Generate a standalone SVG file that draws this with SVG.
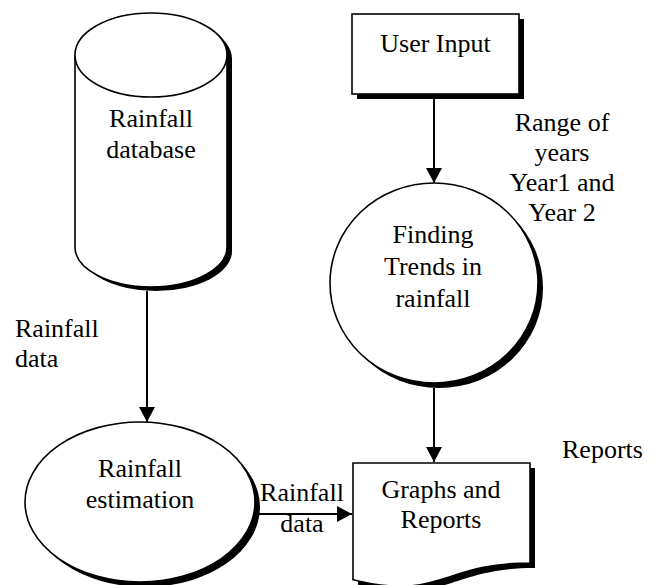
<svg xmlns="http://www.w3.org/2000/svg" width="658" height="585" viewBox="0 0 658 585">
  <style>
    .shape { fill: #fff; stroke: #000; stroke-width: 1.6; }
    .shadow { fill: #000; stroke: none; }
    .label { font-family: 'Liberation Serif', 'Times New Roman', Times, serif; font-size: 26px; fill: #000; }
    .mid { text-anchor: middle; }
    .flow { stroke: #000; stroke-width: 2; fill: none; marker-end: url(#arrow); }
  </style>
  <defs>
    <marker id="arrow" markerUnits="userSpaceOnUse" markerWidth="16" markerHeight="16" refX="15" refY="8" orient="auto">
      <path d="M0,0 L15,8 L0,16 Z" fill="#000"/>
    </marker>
  </defs>

  <rect width="658" height="585" fill="#fff"/>

  <!-- data store -->
  <g id="rainfall-database">
    <path class="shadow" transform="translate(5,4)" d="M75,55 V247 A76,40 0 0 0 227,247 V55 A76,42 0 0 0 75,55 Z"/>
    <path class="shape" d="M75,55 V247 A76,40 0 0 0 227,247 V55"/>
    <ellipse class="shape" cx="151" cy="55" rx="76" ry="42"/>
    <text class="label mid" x="151" y="127">Rainfall</text>
    <text class="label mid" x="151" y="158">database</text>
  </g>

  <!-- external entity -->
  <g id="user-input">
    <rect class="shadow" x="357" y="19" width="167" height="80"/>
    <rect class="shape" x="352" y="14" width="167" height="80"/>
    <text class="label mid" x="435.5" y="52">User Input</text>
  </g>

  <!-- processes -->
  <g id="finding-trends">
    <ellipse class="shadow" cx="439" cy="288" rx="104" ry="100"/>
    <ellipse class="shape" cx="434" cy="283" rx="104" ry="100"/>
    <text class="label mid" x="433" y="243">Finding</text>
    <text class="label mid" x="433" y="275">Trends in</text>
    <text class="label mid" x="433" y="307">rainfall</text>
  </g>

  <g id="rainfall-estimation">
    <ellipse class="shadow" cx="145" cy="507" rx="115" ry="80"/>
    <ellipse class="shape" cx="140" cy="502" rx="115" ry="80"/>
    <text class="label mid" x="140" y="477">Rainfall</text>
    <text class="label mid" x="140" y="508">estimation</text>
  </g>

  <!-- document output -->
  <g id="graphs-and-reports">
    <path class="shadow" transform="translate(5,5)" d="M353,463 H530 V563 C441.5,563 441.5,601.4 353,579.7 Z"/>
    <path class="shape" d="M353,463 H530 V563 C441.5,563 441.5,601.4 353,579.7 Z"/>
    <text class="label mid" x="441" y="498">Graphs and</text>
    <text class="label mid" x="441" y="528">Reports</text>
  </g>

  <!-- data flows -->
  <g id="connectors">
    <line class="flow" x1="434" y1="99" x2="434" y2="183"/>
    <line class="flow" x1="147" y1="291" x2="147" y2="422"/>
    <line class="flow" x1="434" y1="388" x2="434" y2="462"/>
    <line class="flow" x1="259" y1="514" x2="352" y2="514"/>
  </g>

  <!-- flow labels -->
  <g id="flow-labels">
    <text class="label mid" x="562" y="131">Range of</text>
    <text class="label mid" x="562" y="161">years</text>
    <text class="label mid" x="562" y="191">Year1 and</text>
    <text class="label mid" x="562" y="221">Year 2</text>
    <text class="label" x="15" y="337">Rainfall</text>
    <text class="label" x="15" y="367">data</text>
    <text class="label mid" x="302" y="501">Rainfall</text>
    <text class="label mid" x="302" y="532">data</text>
    <text class="label" x="562" y="458">Reports</text>
  </g>
</svg>
